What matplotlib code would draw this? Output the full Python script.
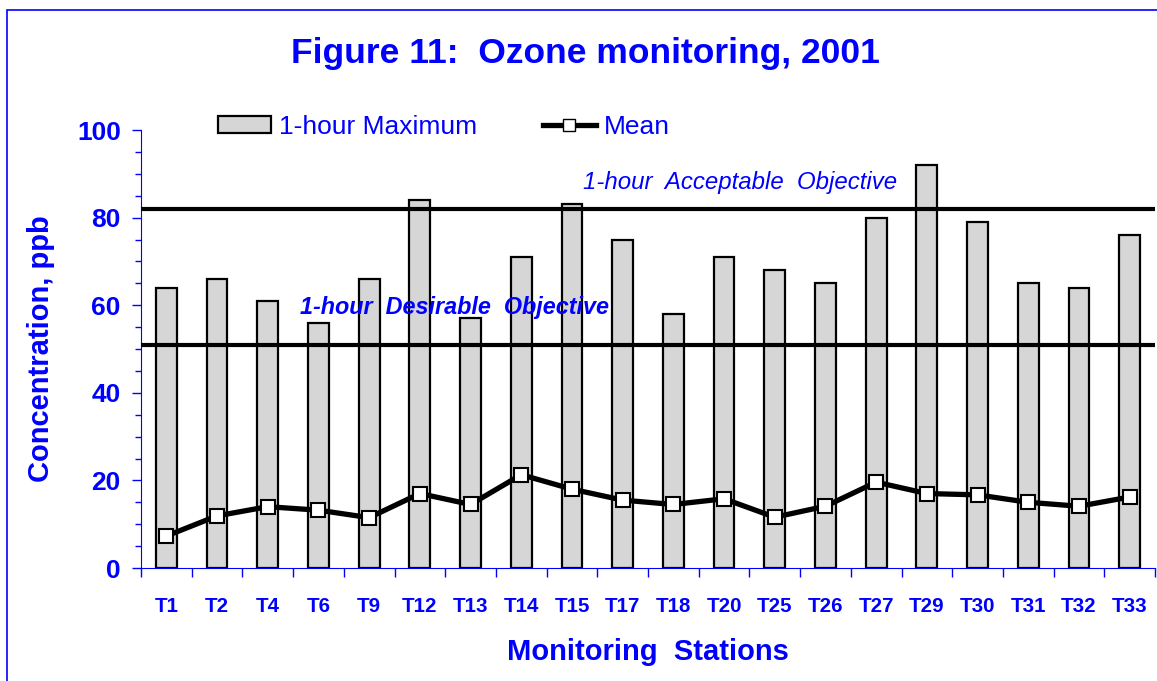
import matplotlib
matplotlib.use("Agg")
import matplotlib.pyplot as plt
import numpy as np
from matplotlib.patches import Rectangle, Patch
from matplotlib.lines import Line2D
from matplotlib.ticker import MultipleLocator, FixedLocator

plt.rcParams["font.family"] = ["Liberation Sans", "DejaVu Sans"]

BLUE = "#0000ff"
BAR_GRAY = "#d6d6d6"

stations = ["T1", "T2", "T4", "T6", "T9", "T12", "T13", "T14", "T15", "T17",
            "T18", "T20", "T25", "T26", "T27", "T29", "T30", "T31", "T32", "T33"]
max_1h = [64, 66, 61, 56, 66, 84, 57, 71, 83, 75,
          58, 71, 68, 65, 80, 92, 79, 65, 64, 76]
mean_vals = [7.3, 11.9, 14.0, 13.2, 11.5, 17.0, 14.5, 21.3, 18.0, 15.5,
             14.5, 15.8, 11.6, 14.1, 19.6, 17.0, 16.7, 15.0, 14.1, 16.2]
acceptable = 82
desirable = 51

fig = plt.figure(figsize=(11.57, 6.81), dpi=100)
ax = fig.add_axes([141 / 1157, 1 - 568 / 681, 1014 / 1157, (568 - 130) / 681])

# marco azul de la figura (cortado por la derecha y por abajo)
fig.patches.append(Rectangle((7 / 1157, -0.2), 2, 1.2 - 10 / 681,
                             transform=fig.transFigure, fill=False,
                             edgecolor=BLUE, linewidth=1.2))

x = np.arange(len(stations))
ax.bar(x, max_1h, width=0.41, color=BAR_GRAY, edgecolor="black",
       linewidth=1.6, zorder=2)
ax.plot(x, mean_vals, color="black", linewidth=3.8, marker="s", markersize=10,
        markerfacecolor="white", markeredgecolor="black", markeredgewidth=1.5,
        zorder=4)

ax.axhline(acceptable, color="black", linewidth=3, zorder=3)
ax.axhline(desirable, color="black", linewidth=3, zorder=3)

ax.text(8.22, 88.1, "1-hour  Acceptable  Objective", color=BLUE, style="italic",
        fontsize=17.3, ha="left", va="center", zorder=5)
ax.text(2.64, 59.4, "1-hour  Desirable  Objective", color=BLUE, style="italic",
        fontweight="bold", fontsize=16.8, ha="left", va="center", zorder=5)

ax.set_xlim(-0.5, len(stations) - 0.5)
ax.set_ylim(0, 100)

ax.spines["top"].set_visible(False)
ax.spines["right"].set_visible(False)
ax.spines["left"].set_color(BLUE)
ax.spines["bottom"].set_color(BLUE)

ax.yaxis.set_major_locator(MultipleLocator(20))
ax.yaxis.set_minor_locator(MultipleLocator(5))
ax.tick_params(axis="y", which="major", colors=BLUE, length=6.5, width=1,
               labelsize=19, pad=8)
ax.tick_params(axis="y", which="minor", colors=BLUE, length=4.5, width=1)
for lab in ax.get_yticklabels():
    lab.set_fontweight("bold")

ax.set_xticks(x)
ax.set_xticklabels(stations, fontweight="bold", fontsize=14.8, color=BLUE)
ax.tick_params(axis="x", which="major", length=0, pad=21)
ax.xaxis.set_minor_locator(FixedLocator(np.arange(-0.5, len(stations), 1)))
ax.tick_params(axis="x", which="minor", colors=BLUE, length=6.5, width=1)

ax.set_xlabel("Monitoring  Stations", color=BLUE, fontsize=21,
              fontweight="bold", labelpad=16)
ax.set_ylabel("Concentration, ppb", color=BLUE, fontsize=21,
              fontweight="bold", labelpad=16)

fig.text(585 / 1157, 1 - 53 / 681, "Figure 11:  Ozone monitoring, 2001",
         color=BLUE, fontsize=25.5, fontweight="bold", ha="center", va="center")

handles = [Patch(facecolor=BAR_GRAY, edgecolor="black", linewidth=1.6),
           Line2D([], [], color="black", linewidth=3.8, marker="s",
                  markersize=9, markerfacecolor="white",
                  markeredgecolor="black")]
leg = ax.legend(handles, ["1-hour Maximum", "Mean"], loc="center left",
                bbox_to_anchor=(0.076, 1.007), ncol=2, frameon=False,
                fontsize=19, handlelength=2.0, handleheight=0.65,
                columnspacing=2.5, handletextpad=0.3, borderpad=0,
                borderaxespad=0)
for t in leg.get_texts():
    t.set_color(BLUE)

fig.savefig("out.png", dpi=100)
